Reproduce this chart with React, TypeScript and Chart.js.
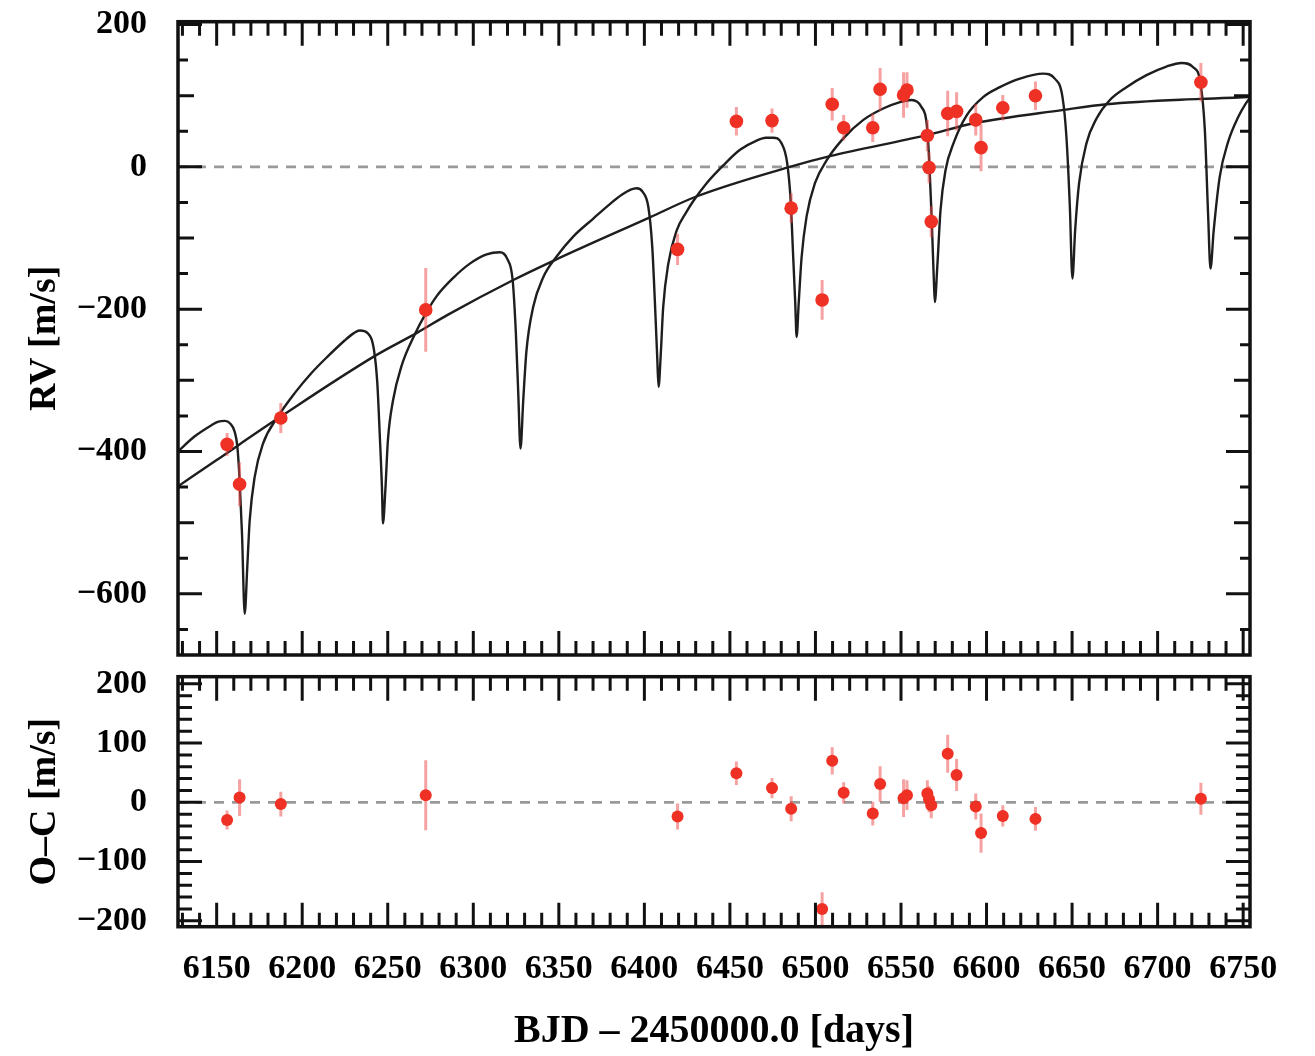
import React, { useEffect, useRef } from 'react';
import { Chart, registerables } from 'chart.js';

Chart.register(...registerables);

// ---------- observations (BJD - 2450000, RV, O-C, error) ----------
const obsTime = [6156.1, 6163.4, 6187.5, 6272.2, 6419.4, 6453.8, 6474.6, 6485.8, 6503.9, 6509.8, 6516.5, 6533.5, 6537.8, 6551.5, 6553.5, 6565.4, 6566.4, 6567.7, 6577.3, 6582.5, 6593.7, 6596.8, 6609.5, 6628.6, 6725.3];
const obsRV = [-390, -446, -353, -201, -116, 64, 65, -58, -187, 88, 55, 55, 109, 101, 108, 44, -1, -77, 75, 78, 66, 27, 83, 100, 119];
const obsOC = [-30, 8, -3, 12, -24, 49, 24, -11, -180, 70, 16, -19, 31, 7, 12, 15, 5, -5, 82, 46, -7, -52, -23, -28, 6];
const obsErr = [16, 31, 21, 59, 22, 20, 17, 21, 28, 23, 18, 20, 30, 32, 25, 22, 22, 22, 32, 27, 22, 33, 18, 20, 27];

// ---------- fitted model curve ----------
const modelTime = [
  6127.4, 6137, 6147, 6151, 6154.7, 6158, 6160.5, 6162.1, 6163.4, 6164.8, 6166.4, 6167.9, 6169.3, 6172.2, 6177.1,
  6185.8, 6195.6, 6205.3, 6215.1, 6224.8, 6230, 6233.6, 6238.4, 6242, 6243.9, 6245.3, 6246.6, 6247.2, 6248.6, 6250.1,
  6253.1, 6257.9, 6265.7, 6272, 6278.5, 6288.3, 6298, 6307.8, 6315.6, 6319.8, 6323, 6324.9, 6326.3, 6327.6, 6329.2,
  6331.1, 6335, 6340.9, 6348.7, 6358.4, 6370, 6380, 6387, 6392, 6395.5, 6399, 6402.3, 6404.6, 6406.1, 6407.5, 6408.3,
  6409.5, 6411, 6414, 6418.8, 6424.7, 6428.6, 6436.4, 6446.1, 6455.9, 6465.6, 6471, 6475.3, 6480.2, 6483.5, 6485.5,
  6487, 6488.2, 6489, 6490.2, 6491.9, 6494.8, 6499.7, 6506.5, 6516.3, 6528, 6539.6, 6549.4, 6556.2, 6562, 6565,
  6566.5, 6567.9, 6569.2, 6569.8, 6571.2, 6573.1, 6576, 6581, 6588.3, 6598, 6607.8, 6619.5, 6633.1, 6639.9, 6644.4,
  6646.7, 6648.7, 6650.2, 6651.8, 6654.1, 6658.4, 6664.3, 6672.1, 6681.8, 6693.5, 6705.2, 6714, 6720.8, 6725.1, 6727.6,
  6729.5, 6730.9, 6732.8, 6736.3, 6741.2, 6747.1, 6751.5, 6754,
];
const modelRV = [
  -400, -379, -363, -358, -357, -361, -372, -393, -440, -515, -628, -562, -497, -436, -389,
  -351, -318, -290, -266, -244, -234, -230, -234, -258, -304, -375, -450, -501, -454, -384,
  -328, -281, -236, -207, -182, -156, -136, -123, -120, -129, -159, -234, -319, -396, -328,
  -258, -197, -155, -126, -98, -73, -52, -39, -32, -30, -35, -56, -112, -187, -267, -309,
  -267, -197, -136, -90, -63, -48, -23, 2, 24, 37, 41, 41, 33, 5, -47,
  -127, -192, -239, -192, -127, -70, -23, 9, 40, 66, 82, 91, 94, 84, 61,
  9, -70, -159, -190, -141, -61, -5, 35, 72, 98, 112, 124, 131, 124, 98,
  42, -56, -157, -89, -23, 33, 68, 94, 112, 129, 141, 146, 140, 117, 52,
  -66, -143, -89, -14, 35, 70, 89, 97,
];

// ---------- long-term trend curve ----------
const trendTime = [6127.4, 6150, 6187.4, 6242.3, 6267.3, 6285, 6323.4, 6347.7, 6403.2, 6430, 6485, 6508.5, 6565, 6592, 6645, 6670, 6725, 6754];
const trendRV = [-449, -412, -351, -266, -233, -208, -159, -131, -71, -42, 0, 15, 44.5, 61, 80, 88, 95.5, 98];

// ---------- axes ----------
const xTickLabels = [6150, 6200, 6250, 6300, 6350, 6400, 6450, 6500, 6550, 6600, 6650, 6700, 6750];
const rvTickLabels = [200, 0, -200, -400, -600];
const ocTickLabels = [200, 100, 0, -100, -200];
const X_MIN = 6127.4;
const X_MAX = 6754;
const RV_MIN = -686;
const RV_MAX = 204;
const OC_MIN = -210;
const OC_MAX = 212;

const FONT = '"Liberation Serif", "Times New Roman", Times, serif';
const RED = '#ee3124';
const ERRC = 'rgba(238, 70, 70, 0.5)';
const INK = '#1e1e1e';

const fmtMinus = (v: number) => (v < 0 ? '\u2212' + Math.abs(v) : String(v));

function makeDecor(id: string, yVals: number[], yStep: number, yLen: (v: number) => number) {
  return {
    id,
    beforeDatasetsDraw(chart: any) {
      const { ctx, chartArea: a, scales } = chart;
      const y0 = scales.y.getPixelForValue(0);
      ctx.save();
      ctx.strokeStyle = '#9a9a9a';
      ctx.lineWidth = 2.8;
      ctx.setLineDash([10, 8]);
      ctx.beginPath();
      ctx.moveTo(a.left, y0);
      ctx.lineTo(a.right, y0);
      ctx.stroke();
      ctx.restore();
    },
    beforeDatasetDraw(chart: any, args: any) {
      if (args.index !== 0) return;
      const { ctx, chartArea: a, scales } = chart;
      ctx.save();
      ctx.beginPath();
      ctx.rect(a.left, a.top, a.right - a.left, a.bottom - a.top);
      ctx.clip();
      ctx.strokeStyle = ERRC;
      ctx.lineWidth = 3;
      obsTime.forEach((t, i) => {
        const px = scales.x.getPixelForValue(t);
        const p1 = scales.y.getPixelForValue(yVals[i] - obsErr[i]);
        const p2 = scales.y.getPixelForValue(yVals[i] + obsErr[i]);
        ctx.beginPath();
        ctx.moveTo(px, p1);
        ctx.lineTo(px, p2);
        ctx.stroke();
      });
      ctx.restore();
    },
    afterDatasetsDraw(chart: any) {
      const { ctx, chartArea: a, scales } = chart;
      ctx.save();
      ctx.strokeStyle = '#111';
      ctx.lineWidth = 3;
      ctx.setLineDash([]);
      // x ticks, every 10 days
      const x0 = Math.ceil(X_MIN / 10);
      const x1 = Math.floor(X_MAX / 10);
      for (let k = x0; k <= x1; k++) {
        const v = k * 10;
        const px = scales.x.getPixelForValue(v);
        const len = v % 50 === 0 ? 24 : 14;
        ctx.beginPath();
        ctx.moveTo(px, a.top);
        ctx.lineTo(px, a.top + len);
        ctx.moveTo(px, a.bottom);
        ctx.lineTo(px, a.bottom - len);
        ctx.stroke();
      }
      const ys = scales.y;
      const k0 = Math.ceil(ys.min / yStep);
      const k1 = Math.floor(ys.max / yStep);
      for (let k = k0; k <= k1; k++) {
        const v = k * yStep;
        const py = ys.getPixelForValue(v);
        const len = yLen(v);
        ctx.beginPath();
        ctx.moveTo(a.left, py);
        ctx.lineTo(a.left + len, py);
        ctx.moveTo(a.right, py);
        ctx.lineTo(a.right - len, py);
        ctx.stroke();
      }
      ctx.lineWidth = 3.5;
      ctx.strokeRect(a.left, a.top, a.right - a.left, a.bottom - a.top);
      ctx.restore();
    },
  };
}

const tickFont = { family: FONT, size: 34, weight: 'bold' as const };
const titleFont = { family: FONT, size: 38, weight: 'bold' as const };

const fitY = (s: any) => {
  s.width = 178;
  s.paddingTop = 0;
  s.paddingBottom = 0;
};

export default function App() {
  const topRef = useRef<HTMLCanvasElement>(null);
  const botRef = useRef<HTMLCanvasElement>(null);

  useEffect(() => {
    document.body.style.margin = '0';
    document.body.style.background = '#fff';

    const pointsDs = (ys: number[], r: number) => ({
      label: 'obs',
      data: obsTime.map((t, i) => ({ x: t, y: ys[i] })),
      showLine: false,
      pointRadius: r,
      pointBackgroundColor: RED,
      pointBorderColor: RED,
      pointBorderWidth: 0,
      order: 0,
    });

    const top = new Chart(topRef.current as HTMLCanvasElement, {
      type: 'line',
      data: {
        datasets: [
          pointsDs(obsRV, 6.8) as any,
          {
            label: 'model',
            data: modelTime.map((t, i) => ({ x: t, y: modelRV[i] })),
            borderColor: INK,
            borderWidth: 2.4,
            pointRadius: 0,
            cubicInterpolationMode: 'monotone',
            fill: false,
            order: 1,
          },
          {
            label: 'trend',
            data: trendTime.map((t, i) => ({ x: t, y: trendRV[i] })),
            borderColor: INK,
            borderWidth: 2.4,
            pointRadius: 0,
            cubicInterpolationMode: 'monotone',
            fill: false,
            order: 2,
          },
        ],
      },
      options: {
        responsive: false,
        animation: false,
        events: [],
        layout: { autoPadding: false, padding: { top: 21.7, right: 65, bottom: 5, left: 0 } },
        plugins: { legend: { display: false }, tooltip: { enabled: false } },
        scales: {
          x: { type: 'linear', display: false, min: X_MIN, max: X_MAX },
          y: {
            type: 'linear',
            min: RV_MIN,
            max: RV_MAX,
            afterFit: fitY,
            afterBuildTicks: (s: any) => { s.ticks = rvTickLabels.map((v) => ({ value: v })); },
            grid: { display: false, drawTicks: false },
            border: { display: false },
            ticks: { padding: 31, font: tickFont, color: '#000', callback: (v: any) => fmtMinus(Number(v)) },
            title: { display: true, text: 'RV [m/s]', font: titleFont, color: '#000', padding: { top: 22, bottom: 0 } },
          },
        },
      } as any,
      plugins: [makeDecor('decorTop', obsRV, 50, (v) => (v % 200 === 0 ? 24 : v % 100 === 0 ? 16 : 10))],
    });

    const bot = new Chart(botRef.current as HTMLCanvasElement, {
      type: 'line',
      data: { datasets: [pointsDs(obsOC, 6) as any] },
      options: {
        responsive: false,
        animation: false,
        events: [],
        layout: { autoPadding: false, padding: { top: 16.7, right: 65, bottom: 0, left: 0 } },
        plugins: { legend: { display: false }, tooltip: { enabled: false } },
        scales: {
          x: {
            type: 'linear',
            min: X_MIN,
            max: X_MAX,
            afterFit: (s: any) => {
              s.height = 129.3;
              s.paddingLeft = 0;
              s.paddingRight = 0;
            },
            afterBuildTicks: (s: any) => { s.ticks = xTickLabels.map((v) => ({ value: v })); },
            grid: { display: false, drawTicks: false },
            border: { display: false },
            ticks: { padding: 22, autoSkip: false, maxRotation: 0, font: tickFont, color: '#000', callback: (v: any) => String(v) },
            title: { display: true, text: 'BJD \u2013 2450000.0 [days]', font: { family: FONT, size: 40, weight: 'bold' }, color: '#000', padding: { top: 0, bottom: 0 } },
          },
          y: {
            type: 'linear',
            min: OC_MIN,
            max: OC_MAX,
            afterFit: fitY,
            afterBuildTicks: (s: any) => { s.ticks = ocTickLabels.map((v) => ({ value: v })); },
            grid: { display: false, drawTicks: false },
            border: { display: false },
            ticks: { padding: 31, font: tickFont, color: '#000', callback: (v: any) => fmtMinus(Number(v)) },
            title: { display: true, text: 'O\u2013C [m/s]', font: titleFont, color: '#000', padding: { top: 22, bottom: 0 } },
          },
        },
      } as any,
      plugins: [makeDecor('decorBot', obsOC, 20, (v) => (v % 100 === 0 ? 24 : 14))],
    });

    return () => {
      top.destroy();
      bot.destroy();
    };
  }, []);

  return (
    <div style={{ position: 'relative', width: 1315, height: 1056, background: '#fff', overflow: 'hidden' }}>
      <canvas ref={topRef} width={1315} height={660} style={{ position: 'absolute', left: 0, top: 0, display: 'block' }} />
      <canvas ref={botRef} width={1315} height={396} style={{ position: 'absolute', left: 0, top: 660, display: 'block' }} />
    </div>
  );
}
